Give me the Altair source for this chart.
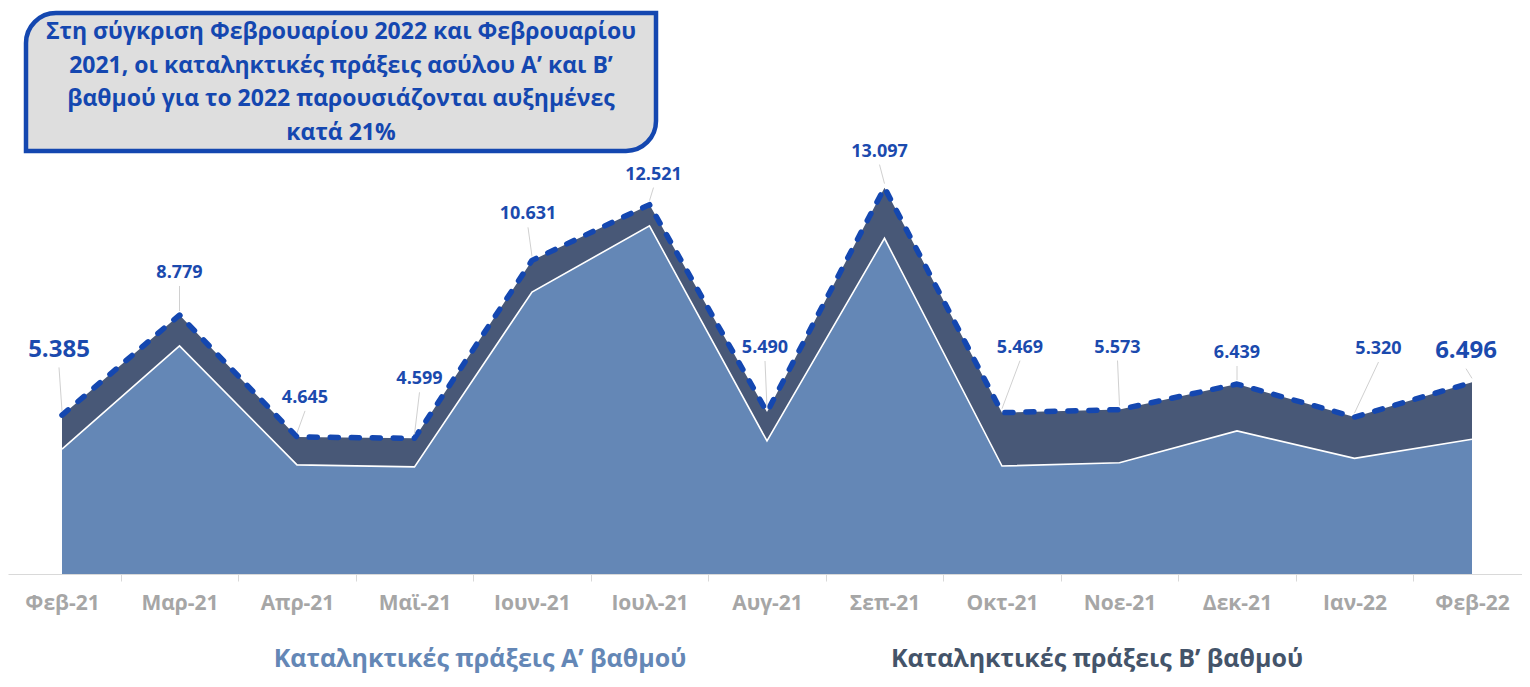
import altair as alt
import pandas as pd

# ---------------- data ----------------
months = ["Φεβ-21", "Μαρ-21", "Απρ-21", "Μαϊ-21", "Ιουν-21", "Ιουλ-21", "Αυγ-21",
          "Σεπ-21", "Οκτ-21", "Νοε-21", "Δεκ-21", "Ιαν-22", "Φεβ-22"]
series_names = ["Καταληκτικές πράξεις Α’ βαθμού", "Καταληκτικές πράξεις Β’ βαθμού"]
level_a = [4230, 7730, 3700, 3630, 9560, 11800, 4510, 11380, 3660, 3770, 4850, 3920, 4570]
level_b = [1155, 1049, 945, 969, 1071, 721, 980, 1717, 1809, 1803, 1589, 1400, 1926]
totals = [5385, 8779, 4645, 4599, 10631, 12521, 5490, 13097, 5469, 5573, 6439, 5320, 6496]
total_labels = ["5.385", "8.779", "4.645", "4.599", "10.631", "12.521", "5.490",
                "13.097", "5.469", "5.573", "6.439", "5.320", "6.496"]
headline = ["Στη σύγκριση Φεβρουαρίου 2022 και Φεβρουαρίου",
            "2021, οι καταληκτικές πράξεις ασύλου Α’ και Β’",
            "βαθμού για το 2022 παρουσιάζονται αυξημένες",
            "κατά 21%"]

# annotation layout: pixel offset of each value label from its point, and label font size
label_dx = [-3, 0, 8, 5, -4, 4, -2, -5, 18, -2, 0, 24, -6]
label_dy = [-65, -42, -39, -59, -46, -30, -64, -36, -65, -62, -31, -68, -31]
label_size = [24, 18, 18, 18, 18, 18, 18, 18, 18, 18, 18, 18, 24]

# ---------------- geometry ----------------
W, H = 1514, 566
STEP = 117.5          # px between months
X0 = 54               # px of first month inside plot
PX_PER_UNIT = 0.0295  # px per case
x_dom = [-X0 / STEP, (W - X0) / STEP]
y_dom = [0, H / PX_PER_UNIT]

FONT = "Open Sans"
LIGHT = "#6487B6"
DARK = "#485877"
BLUE = "#1447B0"
LBLUE = "#1B4AAE"

rows = []
for i in range(len(months)):
    rows.append({"idx": i, "series": series_names[0], "value": level_a[i], "ord": 0})
    rows.append({"idx": i, "series": series_names[1], "value": level_b[i], "ord": 1})
df_area = pd.DataFrame(rows)

df_pts = pd.DataFrame({
    "idx": list(range(len(months))),
    "a": level_a,
    "total": totals,
    "label": total_labels,
    "fs": label_size,
})
df_pts["lx"] = df_pts["idx"] + pd.Series(label_dx) / STEP
df_pts["ly"] = df_pts["total"] - pd.Series(label_dy) / PX_PER_UNIT
df_pts["ltop"] = df_pts["total"] - (pd.Series(label_dy) + df_pts["fs"] * 0.72) / PX_PER_UNIT
df_pts["lbot"] = df_pts["total"] + 4 / PX_PER_UNIT

x_scale = alt.Scale(domain=x_dom, nice=False, zero=False)
y_scale = alt.Scale(domain=y_dom, nice=False, zero=True)

label_expr = "[" + ",".join("'" + m + "'" for m in months) + "][datum.value]"
x_axis = alt.Axis(values=list(range(len(months))), labelExpr=label_expr, title=None,
                  grid=False, domainColor="#D9D9D9", domainWidth=1,
                  tickColor="#D9D9D9", tickSize=7, tickOffset=-STEP / 2,
                  labelOffset=STEP / 2, labelColor="#A6A6A6", labelFont=FONT,
                  labelFontSize=21, labelFontWeight="bold", labelPadding=11,
                  labelOverlap=False)

areas = alt.Chart(df_area).mark_area(opacity=1).encode(
    x=alt.X("idx:Q", scale=x_scale, axis=x_axis),
    y=alt.Y("value:Q", stack="zero", scale=y_scale, axis=None),
    color=alt.Color("series:N", scale=alt.Scale(domain=series_names, range=[LIGHT, DARK]),
                    legend=None),
    order=alt.Order("ord:Q"),
)

white_line = alt.Chart(df_pts).mark_line(color="white", strokeWidth=1.6).encode(
    x=alt.X("idx:Q", scale=x_scale, axis=x_axis),
    y=alt.Y("a:Q", scale=y_scale, axis=None),
)

dashed = alt.Chart(df_pts).mark_line(color=BLUE, strokeWidth=5.5, strokeDash=[8, 13],
                                     strokeCap="round", strokeJoin="round").encode(
    x=alt.X("idx:Q", scale=x_scale, axis=x_axis),
    y=alt.Y("total:Q", scale=y_scale, axis=None),
)

leaders = alt.Chart(df_pts).mark_rule(color="#D0D0D0", strokeWidth=1).encode(
    x=alt.X("idx:Q", scale=x_scale, axis=x_axis),
    y=alt.Y("lbot:Q", scale=y_scale, axis=None),
    x2="lx:Q",
    y2="ltop:Q",
)

labels = alt.Chart(df_pts).mark_text(font=FONT, fontWeight="bold", color=LBLUE,
                                     align="center", baseline="middle").encode(
    x=alt.X("lx:Q", scale=x_scale, axis=x_axis),
    y=alt.Y("ly:Q", scale=y_scale, axis=None),
    text="label:N",
    size=alt.Size("fs:Q", scale=None, legend=None),
)

one = pd.DataFrame({"k": [0]})
box = alt.Chart(one).mark_rect(fill="#DEDEDE", stroke=BLUE, strokeWidth=4.5,
                               cornerRadiusTopLeft=30, cornerRadiusBottomRight=30).encode(
    x=alt.value(18), x2=alt.value(648), y=alt.value(5), y2=alt.value(143),
)

head = alt.Chart(one).mark_text(font=FONT, fontWeight="bold", color=BLUE, fontSize=23,
                                align="center", baseline="middle", lineHeight=33.7).encode(
    x=alt.value(333), y=alt.value(24), text=alt.value(headline),
)

leg_a = alt.Chart(one).mark_text(font=FONT, fontWeight="bold", color=LIGHT, fontSize=25,
                                 align="center", baseline="alphabetic").encode(
    x=alt.value(472), y=alt.value(659), text=alt.value(series_names[0]),
)
leg_b = alt.Chart(one).mark_text(font=FONT, fontWeight="bold", color="#44546A", fontSize=25,
                                 align="center", baseline="alphabetic").encode(
    x=alt.value(1089), y=alt.value(659), text=alt.value(series_names[1]),
)

chart = alt.layer(areas, white_line, dashed, leaders, labels, box, head, leg_a, leg_b).properties(
    width=W, height=H,
    autosize=alt.AutoSizeParams(type="none"),
    padding={"left": 0, "top": 0, "right": 0, "bottom": 104},
).configure_view(stroke=None)

chart.save("out.html", embed_options={"renderer": "svg", "actions": False})
